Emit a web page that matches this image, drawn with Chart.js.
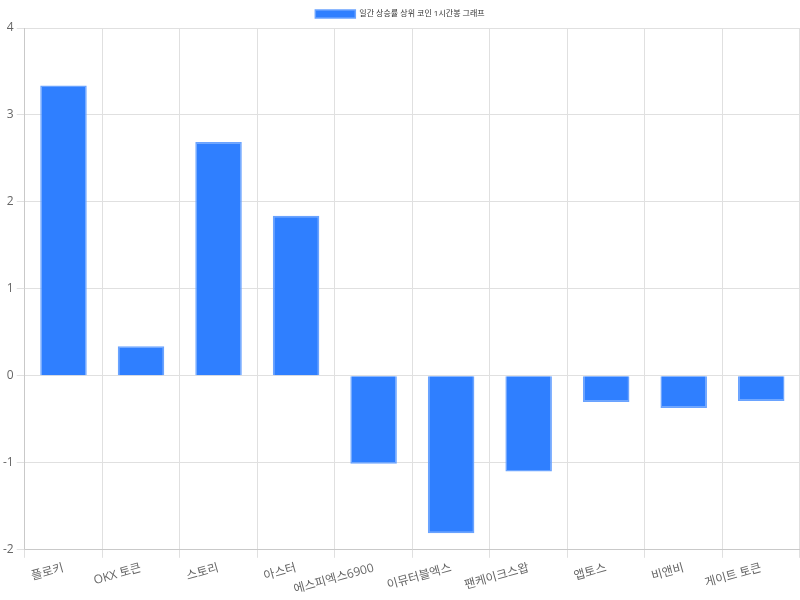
<!DOCTYPE html>
<html><head><meta charset="utf-8">
<script src="https://cdn.jsdelivr.net/npm/chart.js@4"></script>
<style>html,body{margin:0;padding:0;background:#fff}#wrap{width:800px;height:600px}</style>
</head><body><div id="wrap"><canvas id="c"></canvas></div>
<script>
const categories = ['플로키','OKX 토큰','스토리','아스터','에스피엑스6900','이뮤터블엑스','팬케이크스왑','앱토스','비앤비','게이트 토큰'];
const seriesLabel = '일간 상승률 상위 코인 1시간봉 그래프';
const values = [3.34, 0.34, 2.69, 1.84, -1.01, -1.81, -1.10, -0.30, -0.37, -0.29];

Chart.defaults.font.family = "'Open Sans','Noto Sans CJK KR',sans-serif";
Chart.defaults.color = '#666';
new Chart(document.getElementById('c'), {
  type: 'bar',
  data: { labels: categories, datasets: [{ label: seriesLabel, data: values,
    backgroundColor: '#2f7fff', borderColor: '#6aa3ff', borderWidth: 1.5 }] },
  options: {
    responsive: true, maintainAspectRatio: false, animation: false,
    barPercentage: 0.6, categoryPercentage: 1,
    plugins: { legend: { labels: { font: { size: 8 }, boxWidth: 40, boxHeight: 8, color: '#333' } }, tooltip: { enabled: false } },
    scales: {
      x: { ticks: { font: { size: 12 } }, grid: { color: '#e0e0e0' } },
      y: { min: -2, max: 4, ticks: { stepSize: 1, font: { size: 12 } }, grid: { color: '#e0e0e0' } }
    }
  }
});
</script></body></html>
